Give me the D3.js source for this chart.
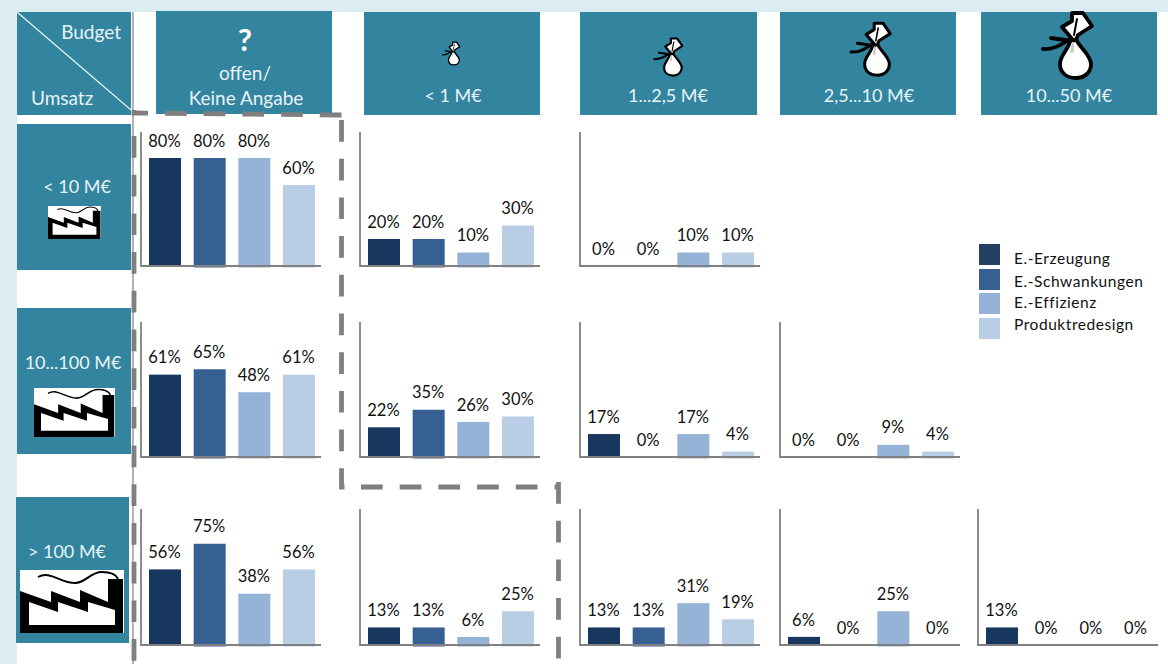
<!DOCTYPE html>
<html><head><meta charset="utf-8">
<script src="https://cdnjs.cloudflare.com/ajax/libs/d3/7.8.5/d3.min.js"></script>
<style>html,body{margin:0;padding:0;background:#fff}svg{display:block}text{font-family:Lato,"Open Sans",sans-serif}</style>
</head><body><svg id="c" width="1168" height="664"></svg>
<script>
const seriesNames=["E.-Erzeugung","E.-Schwankungen","E.-Effizienz","Produktredesign"];
const budgetLabels=["offen/ Keine Angabe","< 1 M€","1...2,5 M€","2,5...10 M€","10...50 M€"];
const revenueLabels=["< 10 M€","10...100 M€","> 100 M€"];
// one row per revenue class, one entry per budget class (null = no chart)
const erzeugung=[[80,20,0,null,null],[61,22,17,0,null],[56,13,13,6,13]];
const schwankungen=[[80,20,0,null,null],[65,35,0,0,null],[75,13,13,0,0]];
const effizienz=[[80,10,10,null,null],[48,26,17,9,null],[38,6,31,25,0]];
const produktredesign=[[60,30,10,null,null],[61,30,4,4,null],[56,25,19,0,0]];
const seriesValues=[erzeugung,schwankungen,effizienz,produktredesign];
const barColors=["#17375e","#376092","#95b3d7","#b9cde5"];
const legendColors=["#264061","#376092","#95b3d7","#b9cde5"];

const TEAL="#33849f",STRIP="#dbedf3",GRAY="#808080",INK="#111";
const colX=[141,360,580,780,978],rowBase=[266,457,645],rowTop=[132,322,509];
const svg=d3.select("#c");

// page frame
svg.append("rect").attr("width",1168).attr("height",12).attr("fill",STRIP);
svg.append("rect").attr("y",0).attr("width",17).attr("height",664).attr("fill",STRIP);

const hdr=[[156,11,176,103],[364,12,176,103],[580,12,177,103],[780,12,176,103],[981,12,176,103]];
const rowHdr=[[17,124,114,146],[17,308,114,146],[16,497,113,146]];
const box=b=>svg.append("rect").attr("x",b[0]).attr("y",b[1]).attr("width",b[2]).attr("height",b[3]).attr("fill",TEAL);
box([17,12,114,103]);hdr.forEach(box);rowHdr.forEach(box);
svg.append("line").attr("x1",17).attr("y1",12).attr("x2",131).attr("y2",110).attr("stroke","#e8f4f8").attr("stroke-width",1.2);

const label=(x,y,t,size,anchor,fill,weight)=>svg.append("text").attr("x",x).attr("y",y).attr("text-anchor",anchor||"middle")
  .attr("dominant-baseline","central").attr("font-size",size).attr("fill",fill).attr("font-weight",weight||400).text(t);
const W="#e6f3f7";
label(121,31,"Budget",19,"end",W);
label(31,97,"Umsatz",19,"start",W);
label(245,39,"?",31,"middle","#fff",700);
label(245,72,"offen/",19,"middle",W);
label(246,97,"Keine Angabe",19,"middle",W);
const colCx=[null,453,668,869,1069];
budgetLabels.forEach((t,i)=>{if(i>0)label(colCx[i],95,t,18,"middle",W)});
const rowLblPos=[[77,186],[73,362],[67,551]];
revenueLabels.forEach((t,i)=>label(rowLblPos[i][0],rowLblPos[i][1],t,18,"middle",W));

// money bag icon
const bags=[[453,52,.35],[671.5,54.5,.57],[875,45.6,.8],[1073,41,1]];
bags.forEach(([x,y,s])=>{
  const g=svg.append("g").attr("transform",`translate(${x},${y}) scale(${s})`).attr("stroke","#000").attr("stroke-width",3.8).attr("stroke-linejoin","round").attr("stroke-linecap","round");
  g.append("path").attr("fill","#fff").attr("d","M-3,0C-4,8-13,14-13,23C-13,32-6,37,3,37C12,37,18,31,18,23C18,14,6,6,3,-2Z");
  g.append("path").attr("fill","#fff").attr("d","M0,-1L-11,-14L-1,-20L-1,-28L10,-28L19,-15L5,-6L3,-1Z");
  g.append("path").attr("fill","none").attr("d","M-30,8C-20,9-12,4-3,-2M-22,-3C-15,-2-8,-1,0,0");
  g.append("path").attr("fill","#ccc").attr("stroke","none").attr("d","M-1,1L1,1L1,11L-3,12Z");
  g.append("path").attr("fill","none").attr("stroke-width",2).attr("d","M4,-22L1,-6");
});

// factory icon
const factories=[[48,206,53,33],[34,388,81,49],[20,570,104,63]];
factories.forEach(([x,y,w,h])=>{
  const g=svg.append("g").attr("transform",`translate(${x},${y})`);
  g.append("rect").attr("width",w).attr("height",h).attr("fill","#fff");
  const k=g.append("g").attr("transform",`scale(${w/104},${h/63})`);
  k.append("path").attr("fill","#000").attr("d","M0,21L31,32L31,21L60,32L60,20L88,32L88,9L103,9L103,63L0,63Z");
  k.append("path").attr("fill","#fff").attr("d","M9,32L38,42L38,32L68,42L68,32L95,40L95,55L9,55Z");
  k.append("path").attr("fill","none").attr("stroke","#000").attr("stroke-width",2).attr("d","M18,7C30,0,40,13,55,13C66,13,70,2,82,2C90,2,96,4,98,9");
});

// guide lines
svg.append("line").attr("x1",133).attr("x2",133).attr("y1",12).attr("y2",664).attr("stroke",GRAY).attr("stroke-width",1.2);
const dash=(d,off)=>svg.append("path").attr("fill","none").attr("stroke","#7f7f7f").attr("stroke-width",4.8)
  .attr("stroke-dasharray","21.7 17").attr("stroke-dashoffset",off||0).attr("d",d);
dash("M134,136V664");
dash("M132,113L342,115",5.7);
dash("M134,110V115");
dash("M341.5,120V487H347");
dash("M361,487H558");
dash("M558.5,482V664");

// charts
const y=d3.scaleLinear().domain([0,100]).range([0,135]);
revenueLabels.forEach((_,r)=>{
  budgetLabels.forEach((_,c)=>{
    if(erzeugung[r][c]===null)return;
    const x0=colX[c],base=rowBase[r];
    const x=d3.scaleBand().domain(seriesNames).range([x0+8,x0+174]).paddingInner(.2836).paddingOuter(0);
    const g=svg.append("g");
    const vals=seriesNames.map((n,i)=>({n,i,v:seriesValues[i][r][c]}));
    g.selectAll("rect").data(vals).join("rect").attr("x",d=>x(d.n)).attr("width",x.bandwidth())
      .attr("y",d=>base-y(d.v)).attr("height",d=>d.v>0?y(d.v)+(d.i?1.5:0):0).attr("fill",d=>barColors[d.i]);
    g.selectAll("text").data(vals).join("text").attr("x",d=>x(d.n)+x.bandwidth()/2-.5).attr("y",d=>base-y(d.v)-17.4)
      .attr("text-anchor","middle").attr("dominant-baseline","central").attr("font-size",16.5).attr("fill",INK).text(d=>d.v+"%");
    g.append("path").attr("fill","none").attr("stroke",GRAY).attr("stroke-width",1.8)
      .attr("d",`M${x0},${rowTop[r]}V${base}H${x0+180}`);
  });
});

// legend
const ly=[244,269,293,318],lt=[258,281,302,324];
seriesNames.forEach((n,i)=>{
  svg.append("rect").attr("x",979).attr("y",ly[i]).attr("width",21).attr("height",21).attr("fill",legendColors[i]);
  label(1014,lt[i],n,15.5,"start",INK).attr("letter-spacing",.55);
});
</script></body></html>
